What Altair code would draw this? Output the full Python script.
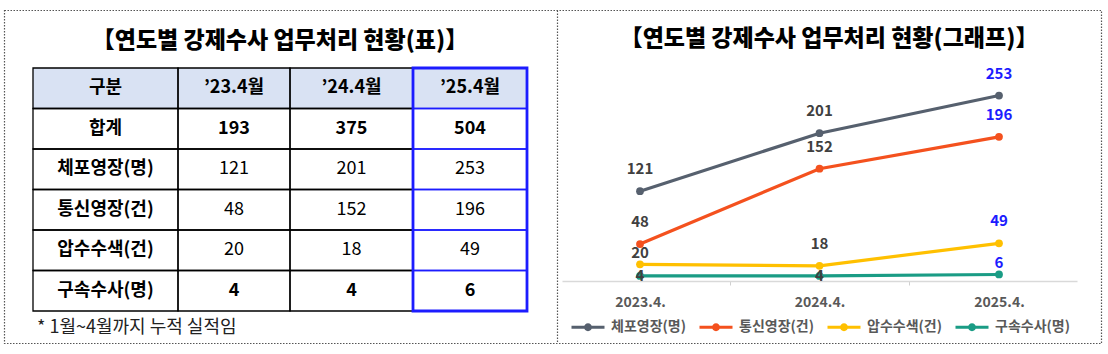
import json
import altair as alt
import pandas as pd

FONT = "Noto Sans CJK KR"

# ---------------- data ----------------
title_table = "【연도별 강제수사 업무처리 현황(표)】"
title_graph = "【연도별 강제수사 업무처리 현황(그래프)】"
footnote = "* 1월~4월까지 누적 실적임"

header_label = "구분"
col_labels = ["’23.4월", "’24.4월", "’25.4월"]
row_labels = ["합계", "체포영장(명)", "통신영장(건)", "압수수색(건)", "구속수사(명)"]
vals_23 = [193, 121, 48, 20, 4]
vals_24 = [375, 201, 152, 18, 4]
vals_25 = [504, 253, 196, 49, 6]
bold_rows = ["합계", "구속수사(명)"]

years = ["2023.4.", "2024.4.", "2025.4."]
series = ["체포영장(명)", "통신영장(건)", "압수수색(건)", "구속수사(명)"]
s_arrest = [121, 201, 253]
s_wiretap = [48, 152, 196]
s_search = [20, 18, 49]
s_detain = [4, 4, 6]

# ---------------- styles / layout ----------------
colors = ["#56606E", "#F4511E", "#FFC000", "#1A9C85"]
BLUE = "#1C1CFF"
LABEL_GRAY = "#404040"
COL_EDGES = [33, 178, 290, 413, 527]
ROW_RANGE = [68, 311]

# ---------------- table frame ----------------
cells = []
heads = [header_label] + col_labels
for c, h in enumerate(heads):
    cells.append(dict(r=0, c=c, text=h, bold=True))
cols_vals = [vals_23, vals_24, vals_25]
for ri, lab in enumerate(row_labels):
    cells.append(dict(r=ri + 1, c=0, text=lab, bold=True))
    for ci, vals in enumerate(cols_vals):
        cells.append(dict(r=ri + 1, c=ci + 1, text=str(vals[ri]), bold=lab in bold_rows))
tab = pd.DataFrame(cells)
tab["r2"] = tab["r"] + 1
tab["c2"] = tab["c"] + 1
tab["rm"] = tab["r"] + 0.5
tab["cm"] = tab["c"] + 0.5
tab["last"] = tab["c"] == len(col_labels)

n_cols = len(col_labels) + 1
n_rows = len(row_labels) + 1
xt = alt.Scale(type="linear", domain=list(range(n_cols + 1)), range=COL_EDGES, zero=False, nice=False)
yt = alt.Scale(type="linear", domain=[0, n_rows], range=ROW_RANGE, zero=False, nice=False)

base_tab = alt.Chart(tab)
enc_rect = dict(
    x=alt.X("c:Q", scale=xt, axis=None), x2="c2:Q",
    y=alt.Y("r:Q", scale=yt, axis=None), y2="r2:Q",
)
header_bg = base_tab.mark_rect(fill="#D9E2F3", stroke=None).encode(**enc_rect).transform_filter("datum.r == 0")
cell_black = base_tab.mark_rect(fill=None, stroke="#000000", strokeWidth=1.3).encode(**enc_rect).transform_filter("!datum.last")
cell_blue = base_tab.mark_rect(fill=None, stroke=BLUE, strokeWidth=1.3).encode(**enc_rect).transform_filter("datum.last")

outer = pd.DataFrame([dict(c=n_cols - 1, c2=n_cols, r=0, r2=n_rows)])
blue_box = alt.Chart(outer).mark_rect(fill=None, stroke=BLUE, strokeWidth=2.8).encode(
    x=alt.X("c:Q", scale=xt, axis=None), x2="c2:Q",
    y=alt.Y("r:Q", scale=yt, axis=None), y2="r2:Q",
)

enc_text = dict(
    x=alt.X("cm:Q", scale=xt, axis=None),
    y=alt.Y("rm:Q", scale=yt, axis=None),
    text="text:N",
)
txt_bold = base_tab.mark_text(font=FONT, fontSize=18, fontWeight="bold", color="#000000", baseline="middle").encode(**enc_text).transform_filter("datum.bold")
txt_norm = base_tab.mark_text(font=FONT, fontSize=18, fontWeight="normal", color="#000000", baseline="middle").encode(**enc_text).transform_filter("!datum.bold")

# ---------------- decorations / titles ----------------
one = alt.Data(values=[{}])
border = alt.Chart(one).mark_rect(fill=None, stroke="#555555", strokeWidth=1.2, strokeDash=[1.5, 1.5]).encode(
    x=alt.value(4.5), x2=alt.value(1101.5), y=alt.value(10.5), y2=alt.value(343.5))
divider = alt.Chart(one).mark_rule(stroke="#555555", strokeWidth=1.2, strokeDash=[1.5, 1.5]).encode(
    x=alt.value(557.5), y=alt.value(10.5), y2=alt.value(343.5))
t1 = alt.Chart(one).mark_text(font=FONT, fontSize=23, fontWeight=900, color="#000000", baseline="middle", align="center").encode(
    x=alt.value(280), y=alt.value(41), text=alt.value(title_table))
t2 = alt.Chart(one).mark_text(font=FONT, fontSize=23, fontWeight=900, color="#000000", baseline="middle", align="center").encode(
    x=alt.value(829), y=alt.value(39), text=alt.value(title_graph))
fn = alt.Chart(one).mark_text(font=FONT, fontSize=18, color="#222222", baseline="middle", align="left").encode(
    x=alt.value(37), y=alt.value(328), text=alt.value(footnote))

# ---------------- line chart ----------------
rows = []
label_dy = {("압수수색(건)", 0): -11, ("구속수사(명)", 0): 0, ("구속수사(명)", 1): 0, ("구속수사(명)", 2): -11}
for s, vals in zip(series, [s_arrest, s_wiretap, s_search, s_detain]):
    for i, v in enumerate(vals):
        rows.append(dict(idx=i, year=years[i], series=s, value=v, dy=label_dy.get((s, i), -22)))
ld = pd.DataFrame(rows)

xs = alt.Scale(type="linear", domain=[-0.4345, 2.4345], range=[562, 1077], zero=False, nice=False)
ys = alt.Scale(type="linear", domain=[-3, 302], range=[281, 60], zero=False, nice=False)

label_expr = "datum.value % 1 === 0 ? " + json.dumps(years) + "[datum.value] : ''"
x_axis = alt.Axis(
    orient="bottom", offset=-73, values=[0, 0.5, 1, 1.5, 2], labelExpr=label_expr,
    domainColor="#D9D9D9", domainWidth=1.3,
    tickColor={"condition": {"test": "datum.value % 1 === 0", "value": "transparent"}, "value": "#D0D0D0"},
    tickSize=4, tickWidth=1,
    labelFont=FONT, labelFontSize=14, labelFontWeight="bold", labelColor="#595959",
    labelPadding=10, labelOverlap=False, labelFlush=False, grid=False, title=None,
)

legend_path = "M-1,0H1M-0.15,0A0.15,0.15,0,1,1,0.15,0A0.15,0.15,0,1,1,-0.15,0Z"
legend = alt.Legend(
    orient="none", legendX=570, legendY=309, direction="horizontal", title=None,
    labelFont=FONT, labelFontSize=14, labelFontWeight="bold", labelColor="#595959",
    symbolType=legend_path, symbolSize=1089, symbolStrokeWidth=3, labelOffset=5,
    columnPadding=7, padding=0,
)

lines = alt.Chart(ld).mark_line(strokeWidth=3.2, point=alt.OverlayMarkDef(filled=True, size=60)).encode(
    x=alt.X("idx:Q", scale=xs, axis=x_axis),
    y=alt.Y("value:Q", scale=ys, axis=None),
    color=alt.Color("series:N", scale=alt.Scale(domain=series, range=colors), legend=legend),
    detail="series:N",
)

lab_layers = []
for d in [-22, -11, 0]:
    lab_layers.append(
        alt.Chart(ld).mark_text(font=FONT, fontSize=15, fontWeight="bold", baseline="middle", dy=d).encode(
            x=alt.X("idx:Q", scale=xs, axis=None),
            y=alt.Y("value:Q", scale=ys, axis=None),
            text="value:Q",
            color=alt.condition("datum.idx == 2", alt.value(BLUE), alt.value(LABEL_GRAY)),
        ).transform_filter(f"datum.dy == {d}")
    )

chart = alt.layer(
    border, divider, t1, t2, fn,
    header_bg, cell_black, cell_blue, blue_box, txt_bold, txt_norm,
    lines, *lab_layers,
).resolve_scale(x="independent", y="independent").properties(
    width=1108, height=354, padding=0, autosize="none", background="white"
).configure_view(stroke=None)

chart.save("out.html", embed_options={"renderer": "svg", "actions": False})
